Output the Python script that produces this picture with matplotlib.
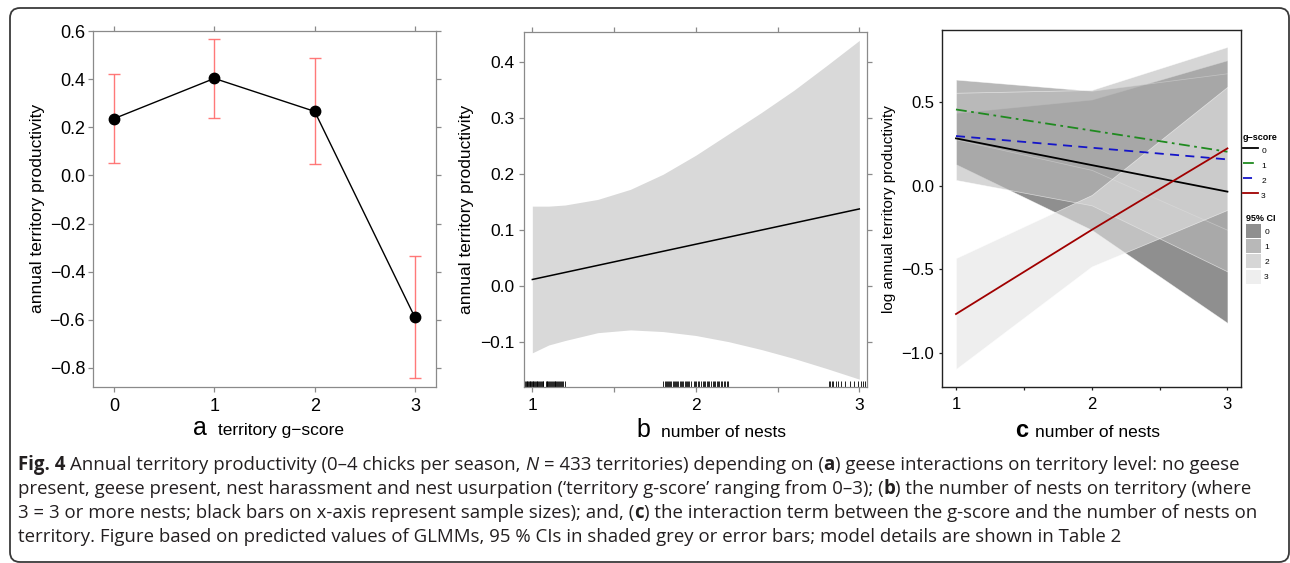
import matplotlib
matplotlib.use("Agg")
import matplotlib.pyplot as plt
from matplotlib.lines import Line2D
from matplotlib.patches import Patch, FancyBboxPatch
from matplotlib.font_manager import FontProperties

plt.rcParams['font.family'] = ['Liberation Sans', 'DejaVu Sans']

W, H = 1290, 563

# ---- panel a: territory g-score ----
gscore = [0, 1, 2, 3]
prod_a = [0.236, 0.403, 0.266, -0.590]
ci_lo_a = [0.051, 0.240, 0.047, -0.842]
ci_hi_a = [0.420, 0.567, 0.488, -0.336]

# ---- panel b: number of nests ----
nests_fit_b = [1.0, 3.0]
prod_b = [0.012, 0.138]
nests_band_b = [1.0, 1.1, 1.2, 1.4, 1.6, 1.8, 2.0, 2.2, 2.4, 2.6, 2.8, 3.0]
ci_hi_b = [0.143, 0.143, 0.145, 0.155, 0.173, 0.200, 0.234, 0.272, 0.310, 0.350, 0.394, 0.439]
ci_lo_b = [-0.119, -0.105, -0.097, -0.083, -0.078, -0.081, -0.088, -0.099, -0.113, -0.129, -0.147, -0.166]
rug_nests = [0.951, 0.956, 0.960, 0.965, 0.969, 0.974, 0.978, 0.983, 0.988, 0.992, 0.997,
             1.001, 1.006, 1.011, 1.015, 1.020, 1.026, 1.031, 1.036, 1.042, 1.047, 1.053,
             1.058, 1.063, 1.068, 1.082, 1.087, 1.092, 1.097, 1.102, 1.108, 1.113, 1.118,
             1.124, 1.130, 1.136, 1.141, 1.147, 1.153, 1.158, 1.164, 1.170, 1.176, 1.183,
             1.190, 1.197,
             1.802, 1.809, 1.816, 1.821, 1.829, 1.836, 1.842, 1.851, 1.858, 1.864, 1.872,
             1.879, 1.885, 1.893, 1.901, 1.908, 1.915, 1.923, 1.931, 1.938, 1.946, 1.953,
             1.961, 1.968, 1.987, 1.996, 2.004, 2.013, 2.021, 2.030, 2.041, 2.048, 2.057,
             2.066, 2.074, 2.083, 2.091, 2.102, 2.110, 2.118, 2.127, 2.136, 2.144, 2.153,
             2.162, 2.171, 2.180, 2.189, 2.197,
             2.815, 2.822, 2.830, 2.836, 2.855, 2.871, 2.890, 2.913, 2.941, 2.968, 2.995,
             3.012, 3.024, 3.035, 3.044]

# ---- panel c: g-score x number of nests ----
nests_c = [1, 2, 3]
groups_c = ['0', '1', '2', '3']
fit_c = {
    '0': [0.285, 0.125, -0.034],
    '1': [0.458, 0.332, 0.205],
    '2': [0.299, 0.229, 0.159],
    '3': [-0.767, -0.263, 0.225],
}
ci_lo_c = {
    '0': [0.130, -0.263, -0.820],
    '1': [0.279, 0.096, -0.263],
    '2': [0.036, -0.116, -0.512],
    '3': [-1.096, -0.482, -0.143],
}
ci_hi_c = {
    '0': [0.438, 0.518, 0.753],
    '1': [0.637, 0.570, 0.675],
    '2': [0.558, 0.575, 0.833],
    '3': [-0.432, -0.054, 0.594],
}
line_colors = {'0': 'black', '1': '#1f8a1f', '2': '#1515c8', '3': '#a00000'}
line_styles = {'0': '-', '1': (0, (6, 2.5, 1.5, 2.5)), '2': (0, (5, 3.5)), '3': '-'}
fill_colors = {'0': '#444444', '1': '#898989', '2': '#bbbbbb', '3': '#e4e4e4'}


def fx(px):
    return px / W


def fy(py):
    return 1 - py / H


def box(l, t, r, b):
    return [fx(l), fy(b), (r - l) / W, (b - t) / H]


fig = plt.figure(figsize=(W / 100, H / 100), dpi=100)

# outer rounded frame
fig.patches.append(FancyBboxPatch((0.10, 0.01), 12.79, 5.54,
                                  boxstyle="round,pad=0,rounding_size=0.1",
                                  transform=fig.dpi_scale_trans, fill=False,
                                  edgecolor='#3a3a3a', linewidth=1.3))

grey = '#8a8a8a'

# ---------------- panel a ----------------
ax = fig.add_axes(box(93, 31, 436, 387))
yerr = [[p - lo for p, lo in zip(prod_a, ci_lo_a)],
        [hi - p for p, hi in zip(prod_a, ci_hi_a)]]
ax.errorbar(gscore, prod_a, yerr=yerr, fmt='none', ecolor='#ff6b6b', elinewidth=1.0,
            capsize=4.5, capthick=1.0, alpha=0.9)
ax.plot(gscore, prod_a, color='black', lw=1.0, marker='o', ms=7.5, zorder=3)
ax.set_xlim(-0.21, 3.21)
ax.set_ylim(-0.879, 0.6)
ax.set_xticks(gscore)
ax.set_yticks([-0.8, -0.6, -0.4, -0.2, 0.0, 0.2, 0.4, 0.6])
ax.set_yticklabels(['−0.8', '−0.6', '−0.4', '−0.2', '0.0', '0.2', '0.4', '0.6'])
for sp in ax.spines.values():
    sp.set_color(grey)
    sp.set_linewidth(0.9)
ax.tick_params(which='both', direction='out', length=3.6, width=0.9, color=grey,
               labelsize=13, pad=2, top=True, right=True)
ax.tick_params(axis='x', pad=4)

fig.text(fx(37.7), fy(208), 'annual territory productivity', rotation=90,
         ha='center', va='center', fontsize=12.5)
fig.text(fx(207), fy(435), 'a', ha='right', va='baseline', fontsize=18)
fig.text(fx(218), fy(435), 'territory g−score', ha='left', va='baseline', fontsize=12.5)

# ---------------- panel b ----------------
ax = fig.add_axes(box(524, 32, 867, 387))
ax.fill_between(nests_band_b, ci_lo_b, ci_hi_b, color='#d9d9d9', lw=0)
ax.plot(nests_fit_b, prod_b, color='black', lw=1.1)
ax.vlines(rug_nests, 0, 0.016, transform=ax.get_xaxis_transform(), color='black', lw=0.6)
ax.set_xlim(0.949, 3.047)
ax.set_ylim(-0.18, 0.454)
ax.set_xticks([1, 2, 3])
ax.set_xticks([1.5, 2.5], minor=True)
ax.set_yticks([-0.1, 0.0, 0.1, 0.2, 0.3, 0.4])
ax.set_yticklabels(['−0.1', '0.0', '0.1', '0.2', '0.3', '0.4'])
for sp in ax.spines.values():
    sp.set_color(grey)
    sp.set_linewidth(0.9)
ax.tick_params(which='both', direction='out', length=3.6, width=0.9, color=grey,
               labelsize=12.5, pad=3, top=True, right=True)
ax.tick_params(axis='x', pad=4)

fig.text(fx(467), fy(209), 'annual territory productivity', rotation=90,
         ha='center', va='center', fontsize=12.5)
fig.text(fx(650), fy(437), 'b', ha='right', va='baseline', fontsize=18)
fig.text(fx(661), fy(437), 'number of nests', ha='left', va='baseline', fontsize=12.5)

# ---------------- panel c ----------------
ax = fig.add_axes(box(942, 30, 1241, 387))
for g in groups_c:
    ax.fill_between(nests_c, ci_lo_c[g], ci_hi_c[g], facecolor=fill_colors[g],
                    edgecolor='white', lw=0.5, alpha=0.6)
for g in groups_c:
    ax.plot(nests_c, fit_c[g], color=line_colors[g], ls=line_styles[g], lw=1.3)
ax.set_xlim(0.897, 3.10)
ax.set_ylim(-1.204, 0.934)
ax.set_xticks([1, 2, 3])
ax.set_xticks([1.5, 2.5], minor=True)
ax.set_yticks([-1.0, -0.5, 0.0, 0.5])
ax.set_yticklabels(['−1.0', '−0.5', '0.0', '0.5'])
for sp in ax.spines.values():
    sp.set_color('#222222')
    sp.set_linewidth(1.0)
ax.tick_params(which='both', direction='out', length=2.5, width=0.9, color='#222222',
               labelsize=12, pad=3)
ax.tick_params(axis='x', pad=5)

fig.text(fx(889.5), fy(209), 'log annual territory productivity', rotation=90,
         ha='center', va='center', fontsize=11)
fig.text(fx(1028), fy(437), 'c', ha='right', va='baseline', fontsize=17, fontweight='bold')
fig.text(fx(1035), fy(437), 'number of nests', ha='left', va='baseline', fontsize=12.5)

legend_kw = dict(loc='upper left', bbox_transform=fig.transFigure, frameon=False,
                 fontsize=6, title_fontproperties={'size': 6.5, 'weight': 'bold'},
                 handlelength=1.8, handleheight=2.2, labelspacing=0.15,
                 handletextpad=0.4, borderpad=0.2, alignment='left')
line_handles = [Line2D([], [], color=line_colors[g], ls=line_styles[g], lw=1.3) for g in groups_c]
leg1 = ax.legend(line_handles, groups_c, title='g−score',
                 bbox_to_anchor=(fx(1237), fy(127)), **legend_kw)
ax.add_artist(leg1)
fill_handles = [Patch(facecolor=fill_colors[g], alpha=0.6, edgecolor='none') for g in groups_c]
ax.legend(fill_handles, groups_c, title='95% CI',
          bbox_to_anchor=(fx(1240), fy(208)), **legend_kw)

# ---------------- caption ----------------
caption = [
    [("Fig. 4", 'bold'), (" Annual territory productivity (0–4 chicks per season, ", ''),
     ("N", 'italic'), (" = 433 territories) depending on (", ''), ("a", 'bold'),
     (") geese interactions on territory level: no geese", '')],
    [("present, geese present, nest harassment and nest usurpation (‘territory g-score’ "
      "ranging from 0–3); (", ''), ("b", 'bold'),
     (") the number of nests on territory (where", '')],
    [("3 = 3 or more nests; black bars on x-axis represent sample sizes); and, (", ''),
     ("c", 'bold'), (") the interaction term between the g-score and the number of nests on", '')],
    [("territory. Figure based on predicted values of GLMMs, 95 % CIs in shaded grey or "
      "error bars; model details are shown in Table 2", '')],
]
cap_size = 13.4
cap_color = '#231f20'
renderer = fig.canvas.get_renderer()
prop = FontProperties(family='Open Sans', size=cap_size)
sw = (renderer.get_text_width_height_descent('a a', prop, ismath=False)[0]
      - renderer.get_text_width_height_descent('aa', prop, ismath=False)[0])
for i, pieces in enumerate(caption):
    x = 18
    y = 470 + 24 * i
    for s, style in pieces:
        lead = len(s) - len(s.lstrip(' '))
        trail = len(s) - len(s.rstrip(' '))
        x += lead * sw
        t = fig.text(fx(x), fy(y), s.strip(' '), ha='left', va='baseline',
                     family='Open Sans', fontsize=cap_size, color=cap_color,
                     fontweight='bold' if style == 'bold' else 'normal',
                     fontstyle='italic' if style == 'italic' else 'normal')
        x += t.get_window_extent(renderer).width + trail * sw

fig.savefig('out.png', dpi=100)
